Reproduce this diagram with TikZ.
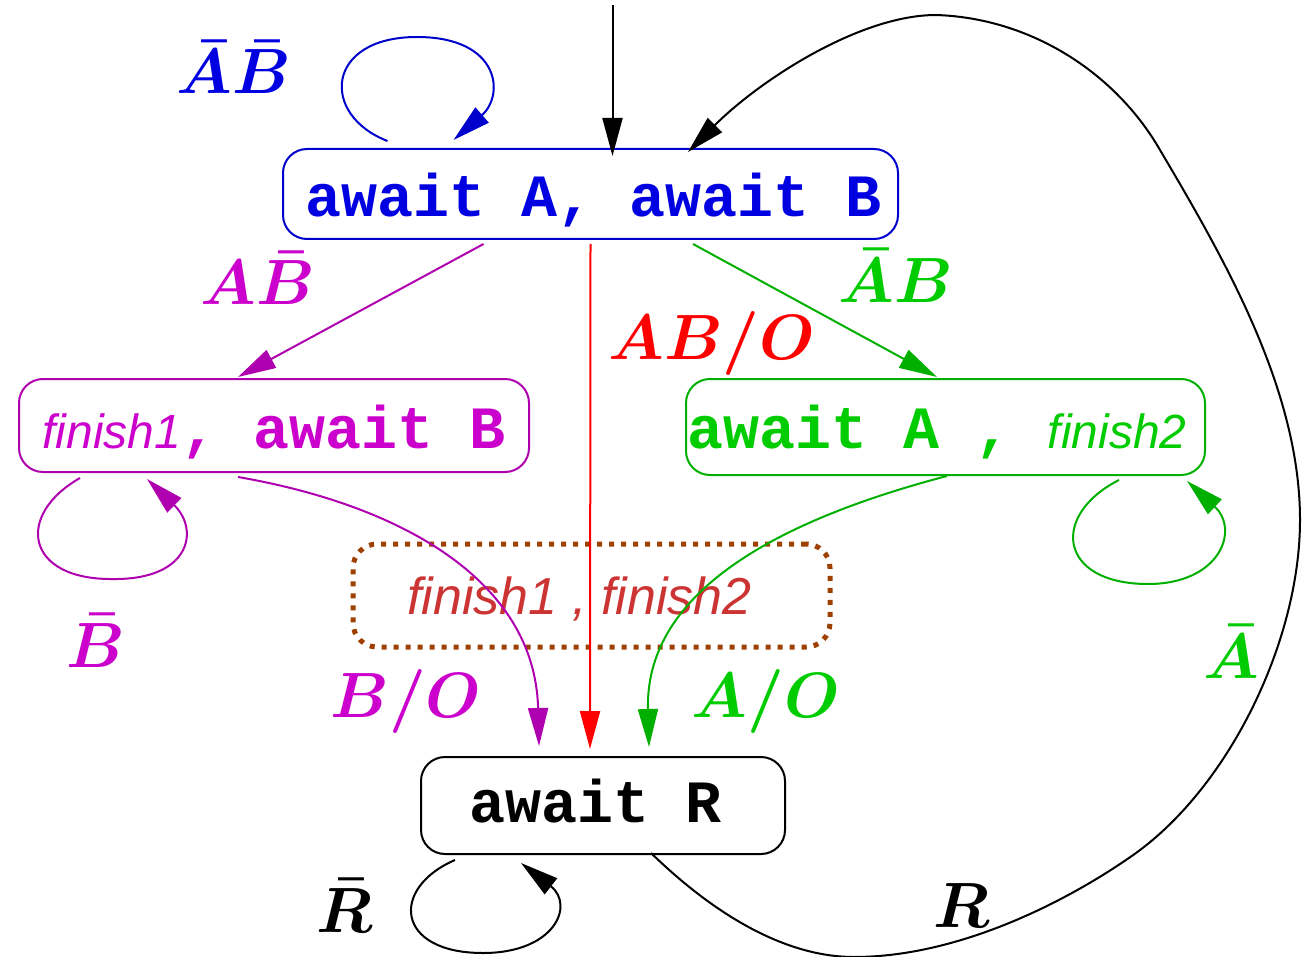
\RequirePackage{fix-cm}
\documentclass[tikz,border=0pt]{standalone}
\usepackage[no-math]{fontspec}
\newfontfamily\cour{Liberation Mono}
\newfontfamily\helv{Liberation Sans}
\usetikzlibrary{arrows.meta,calc}
\definecolor{textblue}{RGB}{0,0,225}
\definecolor{lineblue}{RGB}{0,0,205}
\definecolor{magtext}{RGB}{204,0,204}
\definecolor{magline}{RGB}{175,0,175}
\definecolor{greentext}{RGB}{0,204,0}
\definecolor{greenline}{RGB}{0,175,0}
\definecolor{dotbrown}{RGB}{160,64,0}
\definecolor{finred}{RGB}{204,51,51}
\newcommand{\monotxt}{\cour\bfseries\fontsize{30}{30}\selectfont}
\newcommand{\italtxt}{\helv\itshape\fontsize{24}{24}\selectfont}
\begin{document}
\begin{tikzpicture}[x=0.5pt,y=-0.5pt,
  statebox/.style={draw, rounded corners=12pt, line width=1pt, inner sep=0pt, text depth=0pt},
  conn/.style={line width=1pt, -{Triangle[length=19pt,width=10pt]}},
  lab/.style={anchor=base, inner sep=0pt, font=\boldmath\fontsize{32}{32}\selectfont}]
\useasboundingbox (0,0) rectangle (1306,957);

% states
\node[statebox, draw=lineblue, text=textblue, minimum width=307.5pt, minimum height=45pt, text height=23pt]
  (top) at (590.5,194) {\monotxt\kern3.5pt await A, await B};
\node[statebox, draw=magline, text=magtext, minimum width=255pt, minimum height=46.5pt, text height=22.5pt]
  (left) at (274,425.5) {{\italtxt finish1}{\monotxt, await B}};
\node[statebox, draw=greenline, text=greentext, minimum width=259.5pt, minimum height=48pt, text height=21pt]
  (right) at (945.5,427) {{\monotxt await A , }{\italtxt finish2}\kern8.5pt};
\node[statebox, draw=black, minimum width=182pt, minimum height=48.5pt, text height=16.5pt]
  (bot) at (603,805.5) {\monotxt await R\kern7pt};
\node[draw=dotbrown, rounded corners=12pt, line width=2.5pt, dash pattern=on 2.5pt off 3.5pt,
  inner sep=0pt, minimum width=238.5pt, minimum height=51.5pt, text height=19pt, text depth=0pt, text=finred]
  (fin) at (591.5,595.5) {\helv\itshape\fontsize{26}{26}\selectfont finish1 , finish2\kern12pt};

% initial arrow
\coordinate (init) at (612.5,5);
\draw[conn] (init) -- ($(top.north)+(22,8)$);

% top self loop
\draw[conn, lineblue] ($(top.north)+(-203,-7)$) .. controls (320,115) and (325,37) .. (417,37)
  .. controls (500,37) and (505,95) .. ($(top.north)+(-137,-8)$);

% top to others
\draw[conn, magline] ($(top.south)+(-107,4)$) -- ($(left.north)+(-36,-1)$);
\draw[conn, red] ($(top.south)+(0,4)$) -- ($(bot.north)+(-13,-7)$);
\draw[conn, greenline] ($(top.south)+(102.5,4)$) -- ($(right.north)+(-8.5,-1)$);

% left self loop
\draw[conn, magline] ($(left.south)+(-194,5)$) .. controls (15,515) and (25,580) .. (113,579)
  .. controls (190,580) and (200,530) .. ($(left.south)+(-127,6)$);
% right self loop
\draw[conn, greenline] ($(right.south)+(173.5,4)$) .. controls (1050,515) and (1058,584) .. (1148,584)
  .. controls (1220,584) and (1240,530) .. ($(right.south)+(241.5,5)$);
% bottom self loop
\draw[conn, black] ($(bot.south)+(-148,5)$) .. controls (390,888) and (395,953) .. (483,953)
  .. controls (555,953) and (575,905) .. ($(bot.south)+(-82,8)$);

% to bottom
\draw[conn, magline] ($(left.south)+(-36,4)$) .. controls (400,505) and (535,580) .. ($(bot.north)+(-64,-10)$);
\draw[conn, greenline] ($(right.south)+(1.5,0)$) .. controls (760,525) and (645,600) .. ($(bot.north)+(46,-9)$);

% R back to top
\draw[conn, black] ($(bot.south)+(48,-2)$) .. controls (720,920) and (790,957) .. (854,957)
  .. controls (960,957) and (1070,900) .. (1136,853)
  .. controls (1230,785) and (1300,640) .. (1300,520)
  .. controls (1300,390) and (1225,260) .. (1160,150)
  .. controls (1115,72) and (1030,18) .. (936,15)
  .. controls (860,15) and (760,80) .. ($(top.north)+(97.5,4)$);

% labels
\node[lab, text=textblue] (lAnBn) at (234,94) {$\bar A\bar B$};
\node[lab, text=magtext] (lABn) at (258,305) {$A\bar B$};
\node[lab, text=greentext] (lAnB) at (896,302) {$\bar AB$};
\node[lab, text=red] (lABO) at (712,359) {$AB/O$};
\node[lab, text=magtext] (lBn) at (96,667) {$\bar B$};
\node[lab, text=magtext] (lBO) at (406,717) {$B/O$};
\node[lab, text=greentext] (lAO) at (766,717) {$A/O$};
\node[lab, text=greentext] (lAn) at (1231,678) {$\bar A$};
\node[lab] (lRn) at (345,932) {$\bar R$};
\node[lab] (lR) at (962,927) {$R$};
\end{tikzpicture}
\end{document}
